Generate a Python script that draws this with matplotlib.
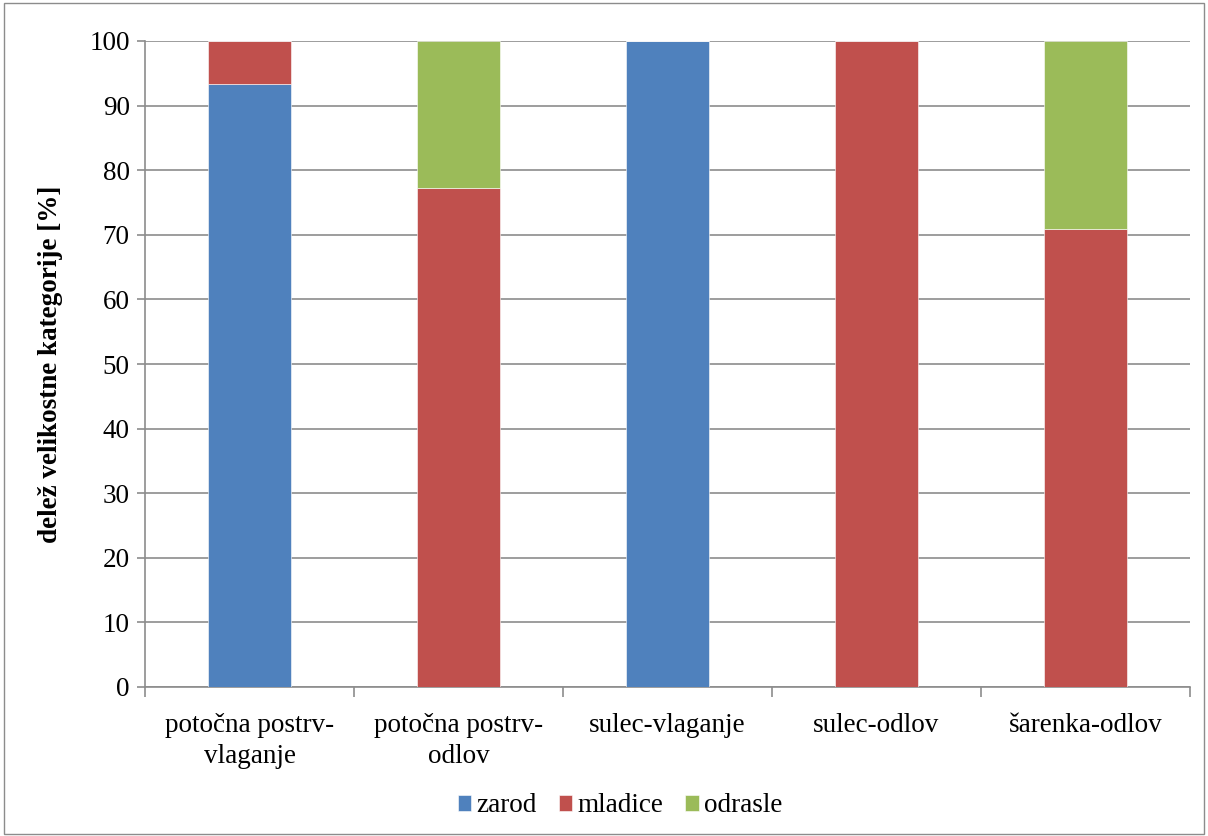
import matplotlib.pyplot as plt
import numpy as np
from matplotlib.patches import Rectangle

categories = ["potočna postrv-\nvlaganje", "potočna postrv-\nodlov", "sulec-vlaganje", "sulec-odlov", "šarenka-odlov"]
zarod = [93.3, 0, 100, 0, 0]
mladice = [6.7, 77.3, 0, 100, 70.9]
odrasle = [0, 22.7, 0, 0, 29.1]
series = [("zarod", zarod, "#4F81BD"), ("mladice", mladice, "#C0504D"), ("odrasle", odrasle, "#9BBB59")]
yticks = list(range(0, 101, 10))

plt.rcParams['font.family'] = ['Liberation Serif', 'DejaVu Serif']
FS = 19.5

fig = plt.figure(figsize=(12.08, 8.36), dpi=100)
ax = fig.add_axes([145/1208, 1 - 687/836, (1190-145)/1208, (687-41)/836])

x = np.arange(len(categories))
bottom = np.zeros(len(categories))
for name, vals, col in series:
    vals = np.array(vals, dtype=float)
    ax.bar(x, vals, width=0.4, bottom=bottom, color=col, label=name,
           edgecolor='white', linewidth=0.4, zorder=3)
    bottom += vals

ax.set_xlim(-0.5, len(categories) - 0.5)
ax.set_ylim(0, 100)
ax.set_yticks(yticks)
ax.set_yticklabels([str(v) for v in yticks], fontsize=FS)
ax.yaxis.grid(True, color='#8c8c8c', linewidth=1.2, zorder=0)
ax.set_axisbelow(True)

ax.set_xticks(x)
ax.set_xticklabels(categories, fontsize=FS, linespacing=1.3)
ax.tick_params(axis='x', length=0, pad=19)
ax.set_xticks(np.arange(-0.5, len(categories)), minor=True)
ax.tick_params(axis='x', which='minor', length=7, color='#8c8c8c', width=1.2)
ax.tick_params(axis='y', length=6, color='#8c8c8c', width=1.2, pad=5)

for side in ['top', 'right']:
    ax.spines[side].set_visible(False)
for side in ['left', 'bottom']:
    ax.spines[side].set_color('#8c8c8c')
    ax.spines[side].set_linewidth(1.2)

ax.set_ylabel("delež velikostne kategorije [%]", fontsize=FS, fontweight='bold', labelpad=19)

leg = fig.legend(loc='center', bbox_to_anchor=(620/1208, 1 - 806/836), ncol=3, frameon=False,
                 fontsize=FS, handlelength=0.5, handleheight=0.5, handletextpad=0.2,
                 columnspacing=0.8)

fig.patches.append(Rectangle((4/1208, 0.002), 1200/1208, 0.995, transform=fig.transFigure,
                             fill=False, edgecolor='#8c8c8c', linewidth=1.0))

fig.savefig("out.png", dpi=100)
